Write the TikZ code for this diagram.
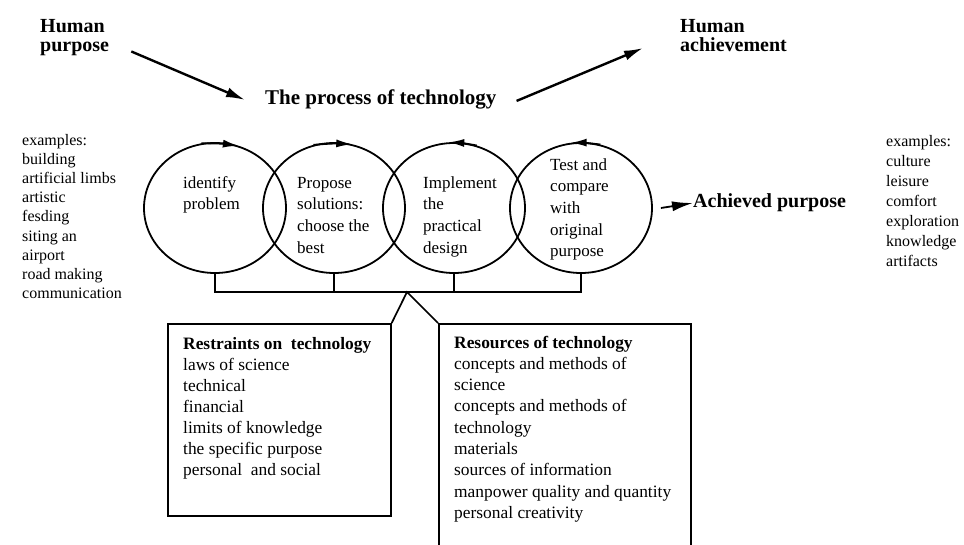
\documentclass[tikz,border=0pt]{standalone}
\usepackage{fontspec}
\setmainfont{Liberation Serif}
\usetikzlibrary{arrows.meta,shapes.geometric,calc}

\newcommand\listfont{\fontsize{16}{19.2}\selectfont}
\newcommand\rlistfont{\fontsize{16}{20}\selectfont}
\newcommand\cyclefont{\fontsize{17}{21.7}\selectfont}
\newcommand\boxfont{\fontsize{17.4}{21}\selectfont}
\newcommand\rboxfont{\fontsize{17.4}{21.3}\selectfont}
\newcommand\headfont{\fontsize{20}{19}\selectfont\bfseries}
\newcommand\titlefont{\fontsize{21}{21}\selectfont\bfseries}

\begin{document}
\begin{tikzpicture}[x=1pt,y=-1pt,
    frame/.style={line width=1.7pt},
    cyclenode/.style={draw, ellipse, line width=1.8pt, minimum width=142pt, minimum height=130pt, inner sep=0pt},
    bigarrow/.style={line width=2.4pt, -{Latex[length=19pt,width=10pt]}},
    looptip/.style={line width=1.8pt, -{Latex[length=16pt,width=8pt]}},
    txt/.style={align=left, inner sep=0pt, anchor=base west}]

    \clip (0,0) rectangle (964,544);

    % Headings (placed at the baseline of their last line)
    \node[txt, font=\headfont] (hp) at (40,51) {Human\\purpose};
    \node[txt, font=\headfont] (ha) at (680,51) {Human\\achievement};
    \node[txt, font=\titlefont] (proc) at (265,104) {The process of technology};

    \draw[bigarrow] ([xshift=22pt,yshift=4pt]hp.south east) -- ([xshift=-20pt,yshift=-1pt]proc.west);
    \draw[bigarrow] ([xshift=20pt,yshift=-2pt]proc.east) -- ([xshift=-37pt,yshift=-13pt]ha.west);

    % Examples
    \node[txt, font=\listfont] (exl) at (22,298.6) {examples:\\building\\artificial limbs\\artistic\\fesding\\siting an\\airport\\road making\\communication};
    \node[txt, font=\rlistfont] (exr) at (886,266) {examples:\\culture\\leisure\\comfort\\exploration\\knowledge\\artifacts};

    % The four stages
    \node[cyclenode] (c1) at (215,208) {};
    \node[cyclenode] (c2) at (334,208) {};
    \node[cyclenode] (c3) at (454,208) {};
    \node[cyclenode] (c4) at (581,208) {};

    \draw[looptip] (c1.102) to[bend left=4] (c1.69);
    \draw[looptip] (c2.108) to[bend left=4] (c2.74);
    \draw[looptip] (c3.70) to[bend right=4] (c3.95);
    \draw[looptip] (c4.73) to[bend right=4] (c4.99);

    \node[txt, font=\cyclefont] (t1) at (183,209.7) {identify\\problem};
    \node[txt, font=\cyclefont] (t2) at (297,253.1) {Propose\\solutions:\\choose the\\best};
    \node[txt, font=\cyclefont] (t3) at (423,253.1) {Implement\\the\\practical\\design};
    \node[txt, font=\cyclefont] (t4) at (550,256.8) {Test and\\compare\\with\\original\\purpose};

    % Achieved purpose
    \node[font=\headfont, anchor=west, inner sep=0pt] (ach) at (693,203) {Achieved purpose};
    \draw[line width=1.8pt, -{Latex[length=21pt,width=10pt]}] ([xshift=8pt]c4.east) -- (ach.west);

    % Bracket under the stages
    \coordinate (join) at (407,292);
    \draw[frame] (c1.south) |- (join) -| (c4.south);
    \draw[frame] (c2.south) -- (c2.south |- join);
    \draw[frame] (c3.south) -- (c3.south |- join);

    % Restraints and resources
    \node[draw, frame, minimum width=223pt, minimum height=192pt, anchor=north west, inner sep=0pt] (restr) at (167,323) {};
    \node[draw, frame, minimum width=252pt, minimum height=240pt, anchor=north west, inner sep=0pt] (resrc) at (438,323) {};
    \draw[frame] (restr.north east) -- (join) -- (resrc.north west);

    \node[txt, font=\boxfont] (rt) at (183,475) {\textbf{Restraints on\ \ technology}\\laws of science\\technical\\financial\\limits of knowledge\\the specific purpose\\personal\ \ and social};
    \node[txt, font=\rboxfont] (rs) at (454,518.4) {\textbf{Resources of technology}\\concepts and methods of\\science\\concepts and methods of\\technology\\materials\\sources of information\\manpower quality and quantity\\personal creativity};
\end{tikzpicture}
\end{document}
